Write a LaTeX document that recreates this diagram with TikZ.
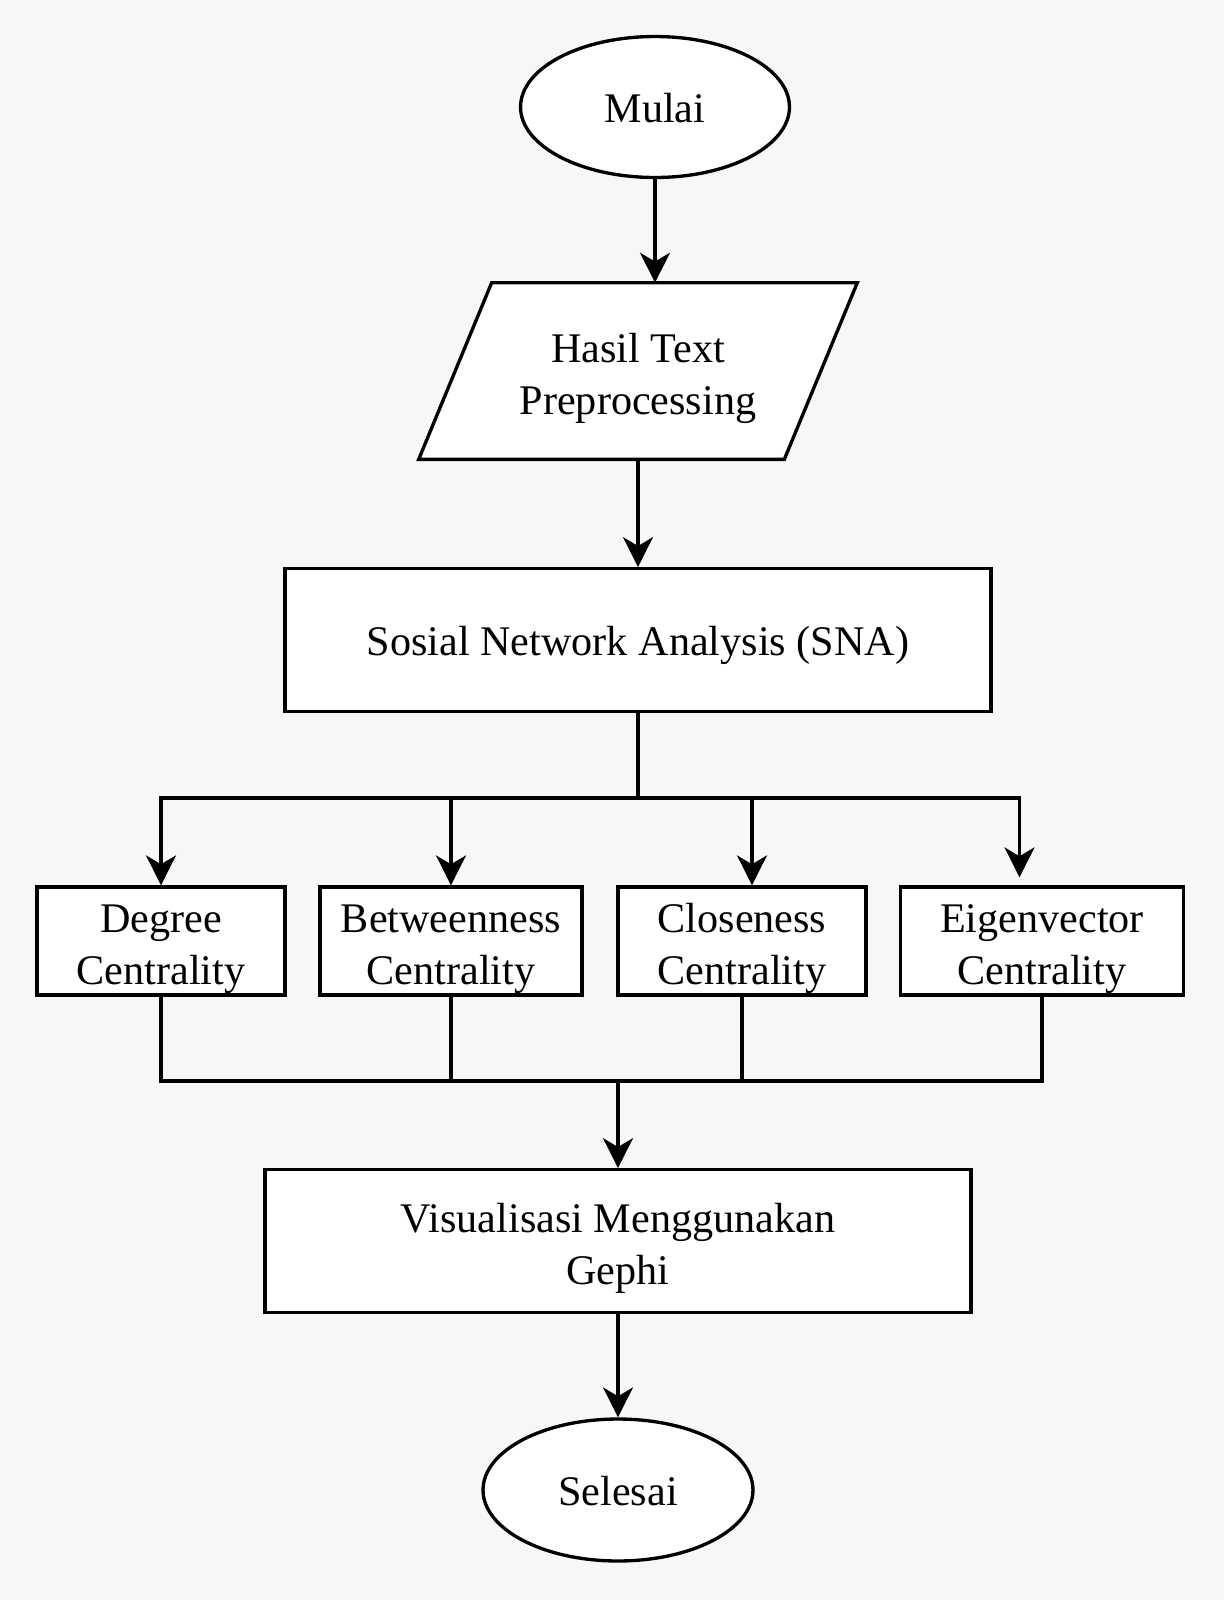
\documentclass[tikz,border=0pt]{standalone}
\usepackage{fontspec}
\setmainfont{Liberation Serif}
\usepackage{tikz}
\usetikzlibrary{arrows.meta,calc,positioning,shapes.geometric}
\definecolor{bggray}{HTML}{F7F7F7}
\pgfdeclarelayer{background}
\pgfsetlayers{background,main}
\tikzset{%
	oneline/.style    = {text height=18pt, text depth=0pt},
	twoline/.style    = {text height=49pt, text depth=0pt},
	terminal/.style   = {draw, fill=white, ellipse, line width=1.9pt, minimum width=5.38cm, minimum height=2.82cm, oneline, text centered},
	inputbox/.style   = {rectangle, minimum width=7.3cm, minimum height=3.52cm, twoline, align=center},
	processbox/.style = {draw, fill=white, rectangle, line width=1.9pt, minimum width=14.12cm, minimum height=2.85cm, align=center},
	measurebox/.style = {draw, fill=white, rectangle, line width=1.9pt, minimum height=2.16cm, twoline, align=center, inner sep=0pt},
	line/.style  = {line width=1.9pt},
	arrow/.style = {line width=1.9pt, -{Stealth[length=17pt,width=17pt,inset=5pt]}},
}

\begin{document}
\begin{tikzpicture}[x=0.02cm,y=-0.02cm,font=\fontsize{24}{29.5}\selectfont]
	\node[terminal] (mulai) at (655,107) {Mulai};
	\node[inputbox] (hasil) at (638,371) {Hasil Text\\Preprocessing};
	\node[processbox, oneline] (sna) at (638,640) {Sosial Network Analysis (SNA)};
	
	\node[measurebox, minimum width=4.96cm] (degree) at (161,941) {Degree\\Centrality};
	\node[measurebox, minimum width=5.24cm] (between) at (451,941) {Betweenness\\Centrality};
	\node[measurebox, minimum width=4.96cm] (close) at (742,941) {Closeness\\Centrality};
	\node[measurebox, minimum width=5.66cm] (eigen) at (1042,941) {Eigenvector\\Centrality};
	
	\node[processbox, twoline] (visual) at (618,1241) {Visualisasi Menggunakan\\Gephi};
	\node[terminal, minimum width=5.4cm, minimum height=2.84cm] (selesai) at (618,1490) {Selesai};
	
	\begin{pgfonlayer}{background}
		\fill[bggray] (0,0) rectangle (1224,1600);
		\draw[line, fill=white] ([xshift=0.73cm]hasil.north west) -- ([xshift=0.73cm]hasil.north east)
			-- ([xshift=-0.73cm]hasil.south east) -- ([xshift=-0.73cm]hasil.south west) -- cycle;
	\end{pgfonlayer}
	
	\coordinate (branch) at (638,798);
	\coordinate (merge) at (618,1081);
	
	\draw[arrow] (mulai) -- (mulai |- hasil.north);
	\draw[arrow] (hasil.south) -- (sna.north);
	\draw[line] (sna.south) -- (branch);
	
	% branches to the four measures
	\draw[arrow] (branch) -| (degree.north);
	\draw[arrow] (branch) -| (between.north);
	\draw[arrow] (branch) -| ([xshift=0.2cm]close.north);
	\draw[arrow, shorten >=0.16cm] (branch) -| ([xshift=-0.45cm]eigen.north);
	
	% join below the measures
	\draw[line] (degree.south) |- (eigen.south |- merge) -- (eigen.south);
	\draw[line] (between.south) -- (between.south |- merge);
	\draw[line] (close.south) -- (close.south |- merge);
	\draw[arrow] (merge) -- (merge |- visual.north);
	\draw[arrow] (visual.south) -- (selesai.north);
\end{tikzpicture}
\end{document}
